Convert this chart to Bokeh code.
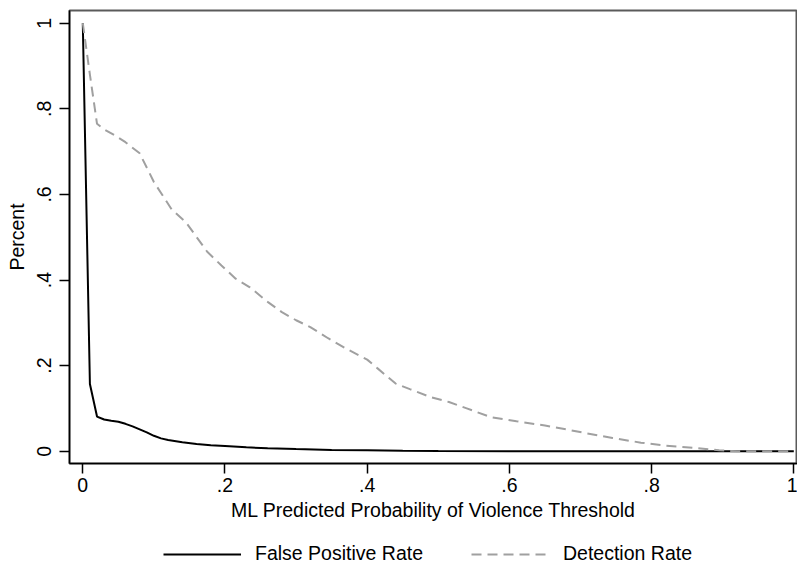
from bokeh.plotting import figure
from bokeh.layouts import column
from bokeh.models import FixedTicker, Legend, LegendItem, Range1d
from bokeh.embed import file_html
from bokeh.resources import INLINE

# ---- data ----
fpr_threshold = [0.0, 0.01, 0.02, 0.03, 0.04, 0.05, 0.06, 0.07, 0.08, 0.09, 0.10, 0.11,
                 0.12, 0.14, 0.16, 0.18, 0.20, 0.23, 0.26, 0.30, 0.35, 0.40, 0.45, 0.50,
                 0.60, 0.70, 0.80, 0.90, 1.00]
fpr_value = [1.0, 0.157, 0.081, 0.074, 0.071, 0.069, 0.064, 0.058, 0.051, 0.044, 0.036, 0.030,
             0.026, 0.021, 0.017, 0.014, 0.012, 0.009, 0.007, 0.005, 0.003, 0.002, 0.001, 0.0005,
             0.0002, 0.0001, 0.0, 0.0, 0.0]

det_threshold = [0.0, 0.01, 0.02, 0.03, 0.045, 0.06, 0.08, 0.10, 0.125, 0.145, 0.175, 0.195,
                 0.215, 0.235, 0.26, 0.28, 0.30, 0.32, 0.345, 0.37, 0.40, 0.415, 0.44, 0.46,
                 0.49, 0.515, 0.54, 0.555, 0.575, 0.61, 0.65, 0.68, 0.705, 0.745, 0.785, 0.82,
                 0.86, 0.895, 0.92, 1.0]
det_value = [1.0, 0.88, 0.765, 0.752, 0.738, 0.722, 0.696, 0.629, 0.565, 0.535, 0.466, 0.434,
             0.403, 0.383, 0.349, 0.325, 0.306, 0.29, 0.264, 0.24, 0.214, 0.193, 0.158, 0.145,
             0.126, 0.115, 0.100, 0.091, 0.079, 0.070, 0.060, 0.051, 0.043, 0.031, 0.020, 0.013,
             0.008, 0.002, 0.0, 0.0]

tick_values = [0, 0.2, 0.4, 0.6, 0.8, 1]
tick_labels = ["0", ".2", ".4", ".6", ".8", "1"]

series_names = ["False Positive Rate", "Detection Rate"]
x_title = "ML Predicted Probability of Violence Threshold"
y_title = "Percent"

FONT = "Liberation Sans"
FPR_STYLE = dict(line_color="black", line_width=2)
DET_STYLE = dict(line_color="#a0a0a0", line_width=2, line_dash="10 6")

p = figure(frame_width=728, frame_height=453, output_backend="svg", toolbar_location=None,
           x_range=Range1d(-0.0187, 1.0052), y_range=Range1d(-0.0287, 1.0297),
           min_border_left=69, min_border_right=0, min_border_top=10, min_border_bottom=70)

p.background_fill_color = "white"
p.border_fill_color = "white"
p.outline_line_color = "#5a5a5a"
p.outline_line_width = 2
p.xgrid.visible = False
p.ygrid.visible = False

p.line(fpr_threshold, fpr_value, **FPR_STYLE)
p.line(det_threshold, det_value, **DET_STYLE)

for ax in (p.xaxis[0], p.yaxis[0]):
    ax.ticker = FixedTicker(ticks=tick_values)
    ax.major_label_overrides = {v: l for v, l in zip(tick_values, tick_labels)}
    ax.axis_line_color = "black"
    ax.axis_line_width = 1.5
    ax.major_tick_line_color = "black"
    ax.major_tick_line_width = 1.5
    ax.major_tick_out = 10
    ax.major_tick_in = 0
    ax.minor_tick_out = 0
    ax.minor_tick_in = 0
    ax.major_label_text_font = FONT
    ax.major_label_text_font_size = "19.5px"
    ax.major_label_text_color = "black"
    ax.axis_label_text_font = FONT
    ax.axis_label_text_font_size = "19.5px"
    ax.axis_label_text_font_style = "normal"
    ax.axis_label_text_color = "black"

p.xaxis.axis_label = x_title
p.yaxis.axis_label = y_title
p.xaxis.major_label_standoff = 4
p.xaxis.axis_label_standoff = 4
p.yaxis.major_label_orientation = "vertical"
p.yaxis.major_label_standoff = 8
p.yaxis.axis_label_standoff = 7

# ---- legend strip below the chart (series drawn out of view, only the key shows) ----
lg = figure(frame_width=797, frame_height=34, output_backend="svg", toolbar_location=None,
            x_range=Range1d(10, 11), y_range=Range1d(10, 11),
            min_border_left=0, min_border_right=0, min_border_top=0, min_border_bottom=0)
lg.axis.visible = False
lg.xgrid.visible = False
lg.ygrid.visible = False
lg.outline_line_color = None
lg.background_fill_color = "white"
lg.border_fill_color = "white"
k1 = lg.line(fpr_threshold, fpr_value, **FPR_STYLE)
k2 = lg.line(det_threshold, det_value, **DET_STYLE)

legend = Legend(items=[LegendItem(label=series_names[0], renderers=[k1]),
                       LegendItem(label=series_names[1], renderers=[k2])],
                orientation="horizontal", location=(163, 2))
legend.label_text_font = FONT
legend.label_text_font_size = "19.5px"
legend.label_text_color = "black"
legend.glyph_width = 78
legend.glyph_height = 20
legend.label_height = 20
legend.label_standoff = 14
legend.spacing = 48
legend.padding = 0
legend.margin = 0
legend.border_line_color = None
legend.background_fill_alpha = 0
lg.add_layout(legend, "center")

layout = column(p, lg, spacing=0)
open("out.html", "w").write(file_html(layout, INLINE))
